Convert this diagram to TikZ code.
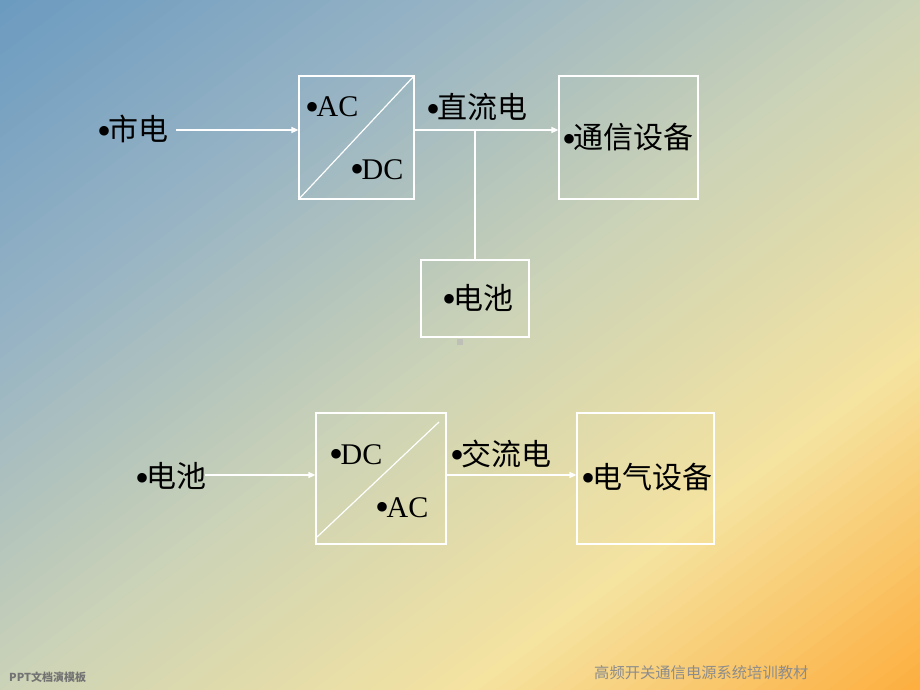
\documentclass[tikz,border=0pt]{standalone}
\usepackage{fontspec}
\setmainfont{Liberation Serif}
\newfontfamily\cjk{Noto Sans CJK SC}
\usetikzlibrary{arrows.meta}
\definecolor{c0}{RGB}{108,155,192}
\definecolor{c1}{RGB}{152,180,196}
\definecolor{c2}{RGB}{204,211,182}
\definecolor{c3}{RGB}{245,227,160}
\definecolor{c4}{RGB}{253,173,60}
\definecolor{foot}{RGB}{140,140,140}
\newcommand\bul{{\fontsize{40}{40}\selectfont\raisebox{-3.5pt}{•}}\hspace{-2.5pt}}
\tikzset{
  box/.style={draw=white, line width=1.2pt, inner sep=0pt},
  wline/.style={draw=white, line width=1.2pt},
  arr/.style={wline, -{Triangle[length=7pt,width=6pt]}},
  lbl/.style={anchor=base west, inner sep=0pt, font=\fontsize{30}{32}\selectfont, text=black},
}
\begin{document}
\begin{tikzpicture}[x=1pt,y=-1pt]
\useasboundingbox (0,0) rectangle (920,690);
\begin{scope}
\clip (0,0) rectangle (920,690);
\foreach \ca/\cb [count=\seg from 0] in {c0/c1,c1/c2,c2/c3,c3/c4}{
  \foreach \j in {0,...,24}{
    \pgfmathtruncatemacro\p{100-4*\j}
    \pgfmathsetmacro\sa{2*(\seg*25+\j)/100}
    \pgfmathsetmacro\sb{\sa+0.022}
    \fill[color=\ca!\p!\cb] ({920*\sa+13.4},-10) -- ({920*\sb+13.4},-10) -- ({920*\sb-933.4},700) -- ({920*\sa-933.4},700) -- cycle;
  }
}
\end{scope}

% boxes
\node[box, minimum width=115pt, minimum height=123pt] (b1) at (356.5,137.5) {};
\node[box, minimum width=139pt, minimum height=123pt] (b2) at (628.5,137.5) {};
\node[box, minimum width=108pt, minimum height=77pt] (b3) at (475,298.5) {};
\node[box, minimum width=130pt, minimum height=131pt] (b4) at (381,478.5) {};
\node[box, minimum width=137pt, minimum height=131pt] (b5) at (645.5,478.5) {};
\node[fill=gray!55!white, opacity=0.7, inner sep=0pt, minimum size=6pt] (sq) at (460,342) {};

\draw[wline] (b1.south west) -- (b1.north east);
\coordinate (d1) at (317,537);
\coordinate (d2) at (439,422);
\draw[wline] (d1) -- (d2);

% labels
\node[lbl] (t1) at (97,140.5) {\bul\cjk 市电};
\node[lbl] (t2) at (305,117) {\bul AC};
\node[lbl] (t3) at (350,179) {\bul DC};
\node[lbl] (t4) at (426,119) {\bul\cjk 直流电};
\node[lbl] (t5) at (562,148.5) {\bul\cjk 通信设备};
\node[lbl] (t6) at (442,309) {\bul\cjk 电池};
\node[lbl] (t7) at (135,487.5) {\bul\cjk 电池};
\node[lbl] (t8) at (329,464) {\bul DC};
\node[lbl] (t9) at (375,517) {\bul AC};
\node[lbl] (t10) at (450,465) {\bul\cjk 交流电};
\node[lbl] (t11) at (581,488) {\bul\cjk 电气设备};

% connectors
\coordinate (s1) at (176,130);
\draw[arr] (s1) -- (b1.west |- s1);
\coordinate (j) at (475,130);
\draw[arr] (b1.east |- j) -- (b2.west |- j);
\draw[wline] (j) -- (b3.north);
\coordinate (s2) at (205,475);
\draw[arr] (s2) -- (b4.west |- s2);
\draw[arr] (b4.east |- s2) -- (b5.west |- s2);

% footer
\node[anchor=base west, inner sep=0pt, font=\cjk\bfseries\fontsize{11}{12}\selectfont, text=gray!90!black] (f1) at (9,681) {PPT文档演模板};
\node[anchor=base west, inner sep=0pt, font=\cjk\fontsize{15.3}{16}\selectfont, text=foot] (f2) at (594,678.5) {高频开关通信电源系统培训教材};
\end{tikzpicture}
\end{document}
